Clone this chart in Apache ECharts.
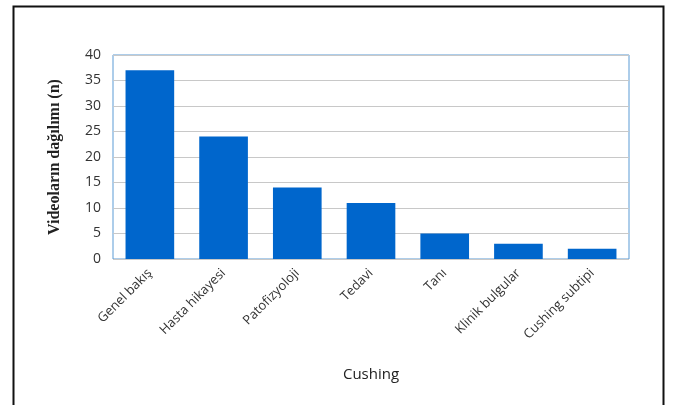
<!DOCTYPE html>
<html>
<head>
<meta charset="utf-8">
<script src="https://cdn.jsdelivr.net/npm/echarts@6/dist/echarts.min.js"></script>
<style>
html,body{margin:0;padding:0;background:#fff;}
#c{width:673px;height:405px;}
</style>
</head>
<body>
<div id="c"></div>
<script>
// topic counts for Cushing videos
var categories = ["Genel bakış","Hasta hikayesi","Patofizyoloji","Tedavi","Tanı","Klinik bulgular","Cushing subtipi"];
var counts = [37, 24, 14, 11, 5, 3, 2];
var yTicks = [0, 5, 10, 15, 20, 25, 30, 35, 40];

var ch = echarts.init(document.getElementById("c"), null, {renderer:"canvas"});
ch.setOption({
  animation:false,
  backgroundColor:"#fff",
  graphic:[{ type:"rect", left:11, top:4, shape:{width:650, height:420},
    style:{fill:"none", stroke:"#111", lineWidth:2}, silent:true }],
  grid:{ left:113, right:44, top:55, bottom:146, containLabel:false,
    show:true, borderColor:"#5b9bd5", borderWidth:1 },
  xAxis:{
    type:"category", data:categories,
    name:"Cushing", nameLocation:"middle", nameGap:108,
    nameTextStyle:{fontFamily:"Open Sans", fontSize:15, color:"#222"},
    axisLine:{show:false}, axisTick:{show:false},
    axisLabel:{rotate:45, interval:0, margin:12, fontFamily:"Open Sans", fontSize:13, color:"#333"}
  },
  yAxis:{
    type:"value", min:yTicks[0], max:yTicks[yTicks.length-1], interval:5,
    name:"Videoların dağılımı (n)", nameLocation:"middle", nameGap:50, nameRotate:90,
    nameTextStyle:{fontFamily:"Liberation Serif", fontWeight:"bold", fontSize:16, color:"#222"},
    axisLine:{show:false}, axisTick:{show:false},
    axisLabel:{fontFamily:"Open Sans", fontSize:14, color:"#333", margin:12},
    splitLine:{lineStyle:{color:"#c8c8c8", width:1}}
  },
  series:[{ type:"bar", data:counts, barWidth:"66%",
    itemStyle:{color:"#0066cc"}, emphasis:{disabled:true} }]
});
</script>
</body>
</html>
